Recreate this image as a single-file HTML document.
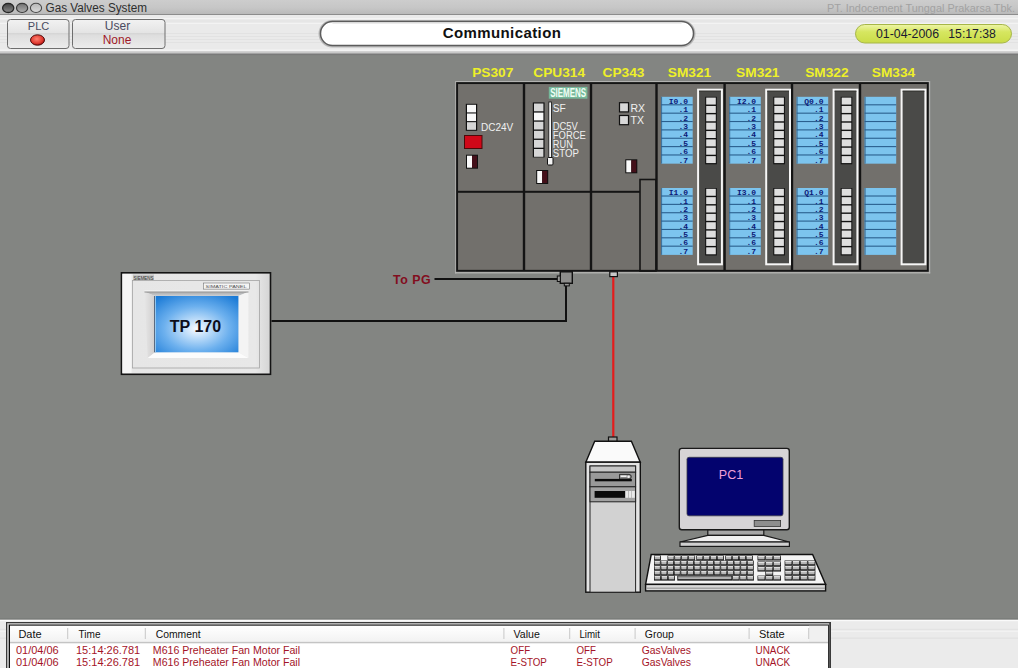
<!DOCTYPE html>
<html><head><meta charset="utf-8">
<style>
html,body{margin:0;padding:0;width:1018px;height:668px;overflow:hidden;background:#838582;font-family:"Liberation Sans",sans-serif;}
svg{position:absolute;left:0;top:0;}
</style></head>
<body>
<svg width="1018" height="668" viewBox="0 0 1018 668" font-family="Liberation Sans, sans-serif">
<defs>
  <linearGradient id="tbar" x1="0" y1="0" x2="0" y2="1">
    <stop offset="0" stop-color="#cdcdcd"/><stop offset="0.55" stop-color="#c6c6c6"/><stop offset="1" stop-color="#b8b8b8"/>
  </linearGradient>
  <linearGradient id="c1" x1="0" y1="0" x2="0" y2="1"><stop offset="0" stop-color="#404040"/><stop offset="1" stop-color="#8a8a8a"/></linearGradient>
  <linearGradient id="c2" x1="0" y1="0" x2="0" y2="1"><stop offset="0" stop-color="#707070"/><stop offset="1" stop-color="#b0b0b0"/></linearGradient>
  <linearGradient id="c3" x1="0" y1="0" x2="0" y2="1"><stop offset="0" stop-color="#b8b8b8"/><stop offset="1" stop-color="#dadada"/></linearGradient>
  <pattern id="stripe" x="0" y="0" width="8" height="4" patternUnits="userSpaceOnUse">
    <rect width="8" height="4" fill="#ebebeb"/><rect y="3" width="8" height="1" fill="#e4e4e4"/>
  </pattern>
  <linearGradient id="btn" x1="0" y1="0" x2="0" y2="1">
    <stop offset="0" stop-color="#f2f2f2"/><stop offset="0.45" stop-color="#e4e4e4"/><stop offset="0.47" stop-color="#d4d4d4"/><stop offset="0.55" stop-color="#dedede"/><stop offset="1" stop-color="#ececec"/>
  </linearGradient>
  <radialGradient id="led" cx="0.45" cy="0.4" r="0.6">
    <stop offset="0" stop-color="#ff8070"/><stop offset="0.7" stop-color="#e03a30"/><stop offset="1" stop-color="#a01010"/>
  </radialGradient>
  <linearGradient id="datepill" x1="0" y1="0" x2="0" y2="1">
    <stop offset="0" stop-color="#eef5a8"/><stop offset="0.4" stop-color="#d6e660"/><stop offset="1" stop-color="#cadc48"/>
  </linearGradient>
  <radialGradient id="scr" cx="0.5" cy="0.58" r="0.72">
    <stop offset="0" stop-color="#fafcff"/><stop offset="0.2" stop-color="#c4e0fa"/><stop offset="0.55" stop-color="#6cb0ee"/><stop offset="1" stop-color="#1a7ad6"/>
  </radialGradient>
</defs>

<!-- title bar -->
<rect x="0" y="0" width="1018" height="14.5" fill="url(#tbar)"/>
<rect x="0" y="14" width="1018" height="1.5" fill="#8c8c8c"/>
<ellipse cx="8.2" cy="7.9" rx="5.6" ry="4.6" fill="url(#c1)" stroke="#262626" stroke-width="1.3"/>
<ellipse cx="22.1" cy="7.9" rx="5.6" ry="4.6" fill="url(#c2)" stroke="#3a3a3a" stroke-width="1.2"/>
<ellipse cx="36" cy="7.9" rx="5.6" ry="4.6" fill="url(#c3)" stroke="#4a4a4a" stroke-width="1.1"/>
<text x="45.5" y="12" font-size="12" fill="#2e2e2e" textLength="101.5" lengthAdjust="spacingAndGlyphs">Gas Valves System</text>
<text x="827" y="11.5" font-size="11" fill="#a2a2a2" textLength="188" lengthAdjust="spacingAndGlyphs">PT. Indocement Tunggal Prakarsa Tbk.</text>

<!-- toolbar -->
<rect x="0" y="15" width="1018" height="37" fill="#eaeaea"/>
<g fill="#f3f3f3"><rect x="0" y="18" width="1018" height="1"/><rect x="0" y="23" width="1018" height="1"/><rect x="0" y="49.5" width="1018" height="1.5"/></g>
<g fill="#e2e2e2"><rect x="0" y="20.5" width="1018" height="1"/><rect x="0" y="33" width="1018" height="1"/><rect x="0" y="36" width="1018" height="1"/><rect x="0" y="39" width="1018" height="1"/><rect x="0" y="42" width="1018" height="1"/></g>
<rect x="0" y="51.3" width="1018" height="2.4" fill="#c8c8c8"/>
<rect x="0" y="53.7" width="1018" height="1.4" fill="#7a7a7a"/>

<!-- PLC button -->
<rect x="7.5" y="19.5" width="61.5" height="29" rx="3" fill="url(#btn)" stroke="#6e6e6e" stroke-width="1"/>
<text x="38.5" y="30" font-size="11" fill="#4a4a60" text-anchor="middle">PLC</text>
<ellipse cx="37.5" cy="40" rx="7" ry="5.2" fill="url(#led)" stroke="#501010" stroke-width="1"/>
<!-- User button -->
<rect x="72.5" y="19.5" width="92.5" height="29" rx="3" fill="url(#btn)" stroke="#6e6e6e" stroke-width="1"/>
<text x="117.5" y="30" font-size="12" fill="#4a4a60" text-anchor="middle">User</text>
<text x="117" y="43.5" font-size="12" fill="#a01828" text-anchor="middle">None</text>

<!-- Communication pill -->
<rect x="319.5" y="21" width="375" height="25.5" rx="12.75" fill="none" stroke="#b8b8b8" stroke-width="2"/>
<rect x="320.5" y="21.6" width="373" height="23.8" rx="11.9" fill="#ffffff" stroke="#5c5c5c" stroke-width="1.5"/>
<path d="M332.4,23.2 H681.6" stroke="#e4e4e4" stroke-width="1"/>
<text x="502" y="38" font-size="15" font-weight="700" fill="#111" text-anchor="middle" letter-spacing="0.4">Communication</text>

<!-- date pill -->
<rect x="855.5" y="24.5" width="156" height="18.5" rx="9.25" fill="url(#datepill)" stroke="#a6b648" stroke-width="1"/>
<text x="876" y="37.6" font-size="12.4" fill="#1a1a30" textLength="63" lengthAdjust="spacingAndGlyphs">01-04-2006</text>
<text x="948.3" y="37.6" font-size="12.4" fill="#1a1a30" textLength="47.6" lengthAdjust="spacingAndGlyphs">15:17:38</text>

<!-- RACK -->
<rect x="455" y="81" width="475" height="1.2" fill="#b2b2b0"/>
<rect x="455" y="81" width="1.2" height="192.5" fill="#a8a8a6"/>
<rect x="928.8" y="81" width="1.4" height="192.5" fill="#b0b0ae"/>
<rect x="455" y="272.2" width="475.2" height="1.2" fill="#b8b8b6"/>
<rect x="457" y="83" width="471" height="188" fill="#72706c"/>
<rect x="457" y="190.8" width="183" height="2" fill="#141414"/>
<rect x="640" y="179.5" width="16" height="91.5" fill="#72706c" stroke="#141414" stroke-width="1.6"/>
<rect x="457.1" y="83.1" width="470.7" height="187.7" fill="none" stroke="#141414" stroke-width="1.9"/>
<rect x="522.8" y="83" width="2.4" height="188" fill="#141414"/>
<rect x="589.8" y="83" width="2.4" height="188" fill="#141414"/>
<rect x="655.3" y="83" width="2.4" height="188" fill="#141414"/>
<rect x="723.4" y="83" width="2.4" height="188" fill="#141414"/>
<rect x="790.8" y="83" width="2.4" height="188" fill="#141414"/>
<rect x="858.8" y="83" width="2.4" height="188" fill="#141414"/>
<rect x="465.8" y="103.8" width="11.4" height="27" fill="#111"/>
<rect x="467" y="104.8" width="9" height="7.6" fill="#f8f8f8"/>
<rect x="467" y="113.5" width="9" height="7.6" fill="#f8f8f8"/>
<rect x="467" y="122.2" width="9" height="7.6" fill="#d6d6d6"/>
<text x="481" y="131" font-size="10" fill="#f0f0f0">DC24V</text>
<rect x="464.5" y="135.5" width="17.5" height="13" fill="#d00818" stroke="#4a0a0a" stroke-width="1"/>
<rect x="466" y="154.7" width="12" height="14" fill="#111"/>
<rect x="467" y="155.7" width="5" height="12" fill="#fafafa"/>
<rect x="472" y="155.7" width="5" height="12" fill="#44101a"/>
<rect x="548.8" y="86.9" width="38.6" height="11.8" fill="#76b89a"/>
<text x="550.2" y="97.3" font-size="12.4" font-weight="700" fill="#f0fff6" textLength="36" lengthAdjust="spacingAndGlyphs">SIEMENS</text>
<rect x="532.8" y="102.4" width="11.8" height="55" fill="#111"/>
<rect x="534" y="103.5" width="9.4" height="7.8" fill="#d6d6d6"/>
<rect x="534" y="112.6" width="9.4" height="7.8" fill="#f8f8f8"/>
<rect x="534" y="121.7" width="9.4" height="7.8" fill="#d6d6d6"/>
<rect x="534" y="130.8" width="9.4" height="7.8" fill="#d6d6d6"/>
<rect x="534" y="139.9" width="9.4" height="7.8" fill="#d6d6d6"/>
<rect x="534" y="149.0" width="9.4" height="7.8" fill="#d6d6d6"/>
<rect x="548.8" y="102" width="2.6" height="56" fill="#f4f4f4" stroke="#111" stroke-width="0.8"/>
<rect x="547.5" y="157.5" width="5.5" height="7.5" rx="1" fill="#f4f4f4" stroke="#111" stroke-width="1"/>
<text x="552.8" y="112" font-size="10" fill="#f0f0f0" textLength="13" lengthAdjust="spacingAndGlyphs">SF</text>
<text x="552.8" y="130.2" font-size="10" fill="#f0f0f0" textLength="25" lengthAdjust="spacingAndGlyphs">DC5V</text>
<text x="552.8" y="139" font-size="10" fill="#f0f0f0" textLength="33" lengthAdjust="spacingAndGlyphs">FORCE</text>
<text x="552.8" y="147.8" font-size="10" fill="#f0f0f0" textLength="20" lengthAdjust="spacingAndGlyphs">RUN</text>
<text x="552.8" y="156.5" font-size="10" fill="#f0f0f0" textLength="26" lengthAdjust="spacingAndGlyphs">STOP</text>
<rect x="536.2" y="170" width="12" height="14" fill="#111"/>
<rect x="537.2" y="171" width="5" height="12" fill="#fafafa"/>
<rect x="542.2" y="171" width="5" height="12" fill="#44101a"/>
<rect x="619.5" y="102.7" width="9" height="9.2" fill="#d8d8d8" stroke="#111" stroke-width="1.2"/>
<rect x="619.5" y="115.5" width="9" height="9.2" fill="#d8d8d8" stroke="#111" stroke-width="1.2"/>
<text x="630.5" y="111.6" font-size="10.5" fill="#f0f0f0">RX</text>
<text x="630.5" y="124.4" font-size="10.5" fill="#f0f0f0">TX</text>
<rect x="625.3" y="159.3" width="12" height="14" fill="#111"/>
<rect x="626.3" y="160.3" width="5" height="12" fill="#fafafa"/>
<rect x="631.3" y="160.3" width="5" height="12" fill="#44101a"/>
<rect x="698.1" y="89.7" width="23.8" height="174.6" fill="#4a4a48" stroke="#f6f6f6" stroke-width="2"/>
<rect x="699.1" y="90.7" width="21.8" height="1" fill="#353533"/>
<rect x="661.1" y="96.8" width="31.6" height="66.88" fill="#7cc4ee"/>
<rect x="661.1" y="96.8" width="1" height="66.88" fill="#3a6e98"/>
<rect x="661.1" y="104.26" width="31.6" height="1.1" fill="#2a5f8e"/>
<text x="688.0" y="104.00" font-size="8" font-family="Liberation Mono, monospace" font-weight="700" fill="#0c1a78" text-anchor="end">I0.0</text>
<rect x="661.1" y="112.62" width="31.6" height="1.1" fill="#2a5f8e"/>
<text x="688.0" y="112.36" font-size="8" font-family="Liberation Mono, monospace" font-weight="700" fill="#0c1a78" text-anchor="end">.1</text>
<rect x="661.1" y="120.98" width="31.6" height="1.1" fill="#2a5f8e"/>
<text x="688.0" y="120.72" font-size="8" font-family="Liberation Mono, monospace" font-weight="700" fill="#0c1a78" text-anchor="end">.2</text>
<rect x="661.1" y="129.34" width="31.6" height="1.1" fill="#2a5f8e"/>
<text x="688.0" y="129.08" font-size="8" font-family="Liberation Mono, monospace" font-weight="700" fill="#0c1a78" text-anchor="end">.3</text>
<rect x="661.1" y="137.70" width="31.6" height="1.1" fill="#2a5f8e"/>
<text x="688.0" y="137.44" font-size="8" font-family="Liberation Mono, monospace" font-weight="700" fill="#0c1a78" text-anchor="end">.4</text>
<rect x="661.1" y="146.06" width="31.6" height="1.1" fill="#2a5f8e"/>
<text x="688.0" y="145.80" font-size="8" font-family="Liberation Mono, monospace" font-weight="700" fill="#0c1a78" text-anchor="end">.5</text>
<rect x="661.1" y="154.42" width="31.6" height="1.1" fill="#2a5f8e"/>
<text x="688.0" y="154.16" font-size="8" font-family="Liberation Mono, monospace" font-weight="700" fill="#0c1a78" text-anchor="end">.6</text>
<text x="688.0" y="162.52" font-size="8" font-family="Liberation Mono, monospace" font-weight="700" fill="#0c1a78" text-anchor="end">.7</text>
<rect x="705.2" y="96.8" width="11.6" height="67.48" fill="#111"/>
<rect x="706.2" y="97.60" width="9.6" height="6.96" fill="#dedede"/>
<rect x="706.2" y="105.96" width="9.6" height="6.96" fill="#dedede"/>
<rect x="706.2" y="114.32" width="9.6" height="6.96" fill="#dedede"/>
<rect x="706.2" y="122.68" width="9.6" height="6.96" fill="#dedede"/>
<rect x="706.2" y="131.04" width="9.6" height="6.96" fill="#dedede"/>
<rect x="706.2" y="139.40" width="9.6" height="6.96" fill="#dedede"/>
<rect x="706.2" y="147.76" width="9.6" height="6.96" fill="#dedede"/>
<rect x="706.2" y="156.12" width="9.6" height="6.96" fill="#dedede"/>
<rect x="661.1" y="188" width="31.6" height="66.88" fill="#7cc4ee"/>
<rect x="661.1" y="188" width="1" height="66.88" fill="#3a6e98"/>
<rect x="661.1" y="195.46" width="31.6" height="1.1" fill="#2a5f8e"/>
<text x="688.0" y="195.20" font-size="8" font-family="Liberation Mono, monospace" font-weight="700" fill="#0c1a78" text-anchor="end">I1.0</text>
<rect x="661.1" y="203.82" width="31.6" height="1.1" fill="#2a5f8e"/>
<text x="688.0" y="203.56" font-size="8" font-family="Liberation Mono, monospace" font-weight="700" fill="#0c1a78" text-anchor="end">.1</text>
<rect x="661.1" y="212.18" width="31.6" height="1.1" fill="#2a5f8e"/>
<text x="688.0" y="211.92" font-size="8" font-family="Liberation Mono, monospace" font-weight="700" fill="#0c1a78" text-anchor="end">.2</text>
<rect x="661.1" y="220.54" width="31.6" height="1.1" fill="#2a5f8e"/>
<text x="688.0" y="220.28" font-size="8" font-family="Liberation Mono, monospace" font-weight="700" fill="#0c1a78" text-anchor="end">.3</text>
<rect x="661.1" y="228.90" width="31.6" height="1.1" fill="#2a5f8e"/>
<text x="688.0" y="228.64" font-size="8" font-family="Liberation Mono, monospace" font-weight="700" fill="#0c1a78" text-anchor="end">.4</text>
<rect x="661.1" y="237.26" width="31.6" height="1.1" fill="#2a5f8e"/>
<text x="688.0" y="237.00" font-size="8" font-family="Liberation Mono, monospace" font-weight="700" fill="#0c1a78" text-anchor="end">.5</text>
<rect x="661.1" y="245.62" width="31.6" height="1.1" fill="#2a5f8e"/>
<text x="688.0" y="245.36" font-size="8" font-family="Liberation Mono, monospace" font-weight="700" fill="#0c1a78" text-anchor="end">.6</text>
<text x="688.0" y="253.72" font-size="8" font-family="Liberation Mono, monospace" font-weight="700" fill="#0c1a78" text-anchor="end">.7</text>
<rect x="705.2" y="188" width="11.6" height="67.48" fill="#111"/>
<rect x="706.2" y="188.80" width="9.6" height="6.96" fill="#dedede"/>
<rect x="706.2" y="197.16" width="9.6" height="6.96" fill="#dedede"/>
<rect x="706.2" y="205.52" width="9.6" height="6.96" fill="#dedede"/>
<rect x="706.2" y="213.88" width="9.6" height="6.96" fill="#dedede"/>
<rect x="706.2" y="222.24" width="9.6" height="6.96" fill="#dedede"/>
<rect x="706.2" y="230.60" width="9.6" height="6.96" fill="#dedede"/>
<rect x="706.2" y="238.96" width="9.6" height="6.96" fill="#dedede"/>
<rect x="706.2" y="247.32" width="9.6" height="6.96" fill="#dedede"/>
<rect x="766.2" y="89.7" width="23.8" height="174.6" fill="#4a4a48" stroke="#f6f6f6" stroke-width="2"/>
<rect x="767.2" y="90.7" width="21.8" height="1" fill="#353533"/>
<rect x="729.2" y="96.8" width="31.6" height="66.88" fill="#7cc4ee"/>
<rect x="729.2" y="96.8" width="1" height="66.88" fill="#3a6e98"/>
<rect x="729.2" y="104.26" width="31.6" height="1.1" fill="#2a5f8e"/>
<text x="756.1" y="104.00" font-size="8" font-family="Liberation Mono, monospace" font-weight="700" fill="#0c1a78" text-anchor="end">I2.0</text>
<rect x="729.2" y="112.62" width="31.6" height="1.1" fill="#2a5f8e"/>
<text x="756.1" y="112.36" font-size="8" font-family="Liberation Mono, monospace" font-weight="700" fill="#0c1a78" text-anchor="end">.1</text>
<rect x="729.2" y="120.98" width="31.6" height="1.1" fill="#2a5f8e"/>
<text x="756.1" y="120.72" font-size="8" font-family="Liberation Mono, monospace" font-weight="700" fill="#0c1a78" text-anchor="end">.2</text>
<rect x="729.2" y="129.34" width="31.6" height="1.1" fill="#2a5f8e"/>
<text x="756.1" y="129.08" font-size="8" font-family="Liberation Mono, monospace" font-weight="700" fill="#0c1a78" text-anchor="end">.3</text>
<rect x="729.2" y="137.70" width="31.6" height="1.1" fill="#2a5f8e"/>
<text x="756.1" y="137.44" font-size="8" font-family="Liberation Mono, monospace" font-weight="700" fill="#0c1a78" text-anchor="end">.4</text>
<rect x="729.2" y="146.06" width="31.6" height="1.1" fill="#2a5f8e"/>
<text x="756.1" y="145.80" font-size="8" font-family="Liberation Mono, monospace" font-weight="700" fill="#0c1a78" text-anchor="end">.5</text>
<rect x="729.2" y="154.42" width="31.6" height="1.1" fill="#2a5f8e"/>
<text x="756.1" y="154.16" font-size="8" font-family="Liberation Mono, monospace" font-weight="700" fill="#0c1a78" text-anchor="end">.6</text>
<text x="756.1" y="162.52" font-size="8" font-family="Liberation Mono, monospace" font-weight="700" fill="#0c1a78" text-anchor="end">.7</text>
<rect x="773.3000000000001" y="96.8" width="11.6" height="67.48" fill="#111"/>
<rect x="774.3000000000001" y="97.60" width="9.6" height="6.96" fill="#dedede"/>
<rect x="774.3000000000001" y="105.96" width="9.6" height="6.96" fill="#dedede"/>
<rect x="774.3000000000001" y="114.32" width="9.6" height="6.96" fill="#dedede"/>
<rect x="774.3000000000001" y="122.68" width="9.6" height="6.96" fill="#dedede"/>
<rect x="774.3000000000001" y="131.04" width="9.6" height="6.96" fill="#dedede"/>
<rect x="774.3000000000001" y="139.40" width="9.6" height="6.96" fill="#dedede"/>
<rect x="774.3000000000001" y="147.76" width="9.6" height="6.96" fill="#dedede"/>
<rect x="774.3000000000001" y="156.12" width="9.6" height="6.96" fill="#dedede"/>
<rect x="729.2" y="188" width="31.6" height="66.88" fill="#7cc4ee"/>
<rect x="729.2" y="188" width="1" height="66.88" fill="#3a6e98"/>
<rect x="729.2" y="195.46" width="31.6" height="1.1" fill="#2a5f8e"/>
<text x="756.1" y="195.20" font-size="8" font-family="Liberation Mono, monospace" font-weight="700" fill="#0c1a78" text-anchor="end">I3.0</text>
<rect x="729.2" y="203.82" width="31.6" height="1.1" fill="#2a5f8e"/>
<text x="756.1" y="203.56" font-size="8" font-family="Liberation Mono, monospace" font-weight="700" fill="#0c1a78" text-anchor="end">.1</text>
<rect x="729.2" y="212.18" width="31.6" height="1.1" fill="#2a5f8e"/>
<text x="756.1" y="211.92" font-size="8" font-family="Liberation Mono, monospace" font-weight="700" fill="#0c1a78" text-anchor="end">.2</text>
<rect x="729.2" y="220.54" width="31.6" height="1.1" fill="#2a5f8e"/>
<text x="756.1" y="220.28" font-size="8" font-family="Liberation Mono, monospace" font-weight="700" fill="#0c1a78" text-anchor="end">.3</text>
<rect x="729.2" y="228.90" width="31.6" height="1.1" fill="#2a5f8e"/>
<text x="756.1" y="228.64" font-size="8" font-family="Liberation Mono, monospace" font-weight="700" fill="#0c1a78" text-anchor="end">.4</text>
<rect x="729.2" y="237.26" width="31.6" height="1.1" fill="#2a5f8e"/>
<text x="756.1" y="237.00" font-size="8" font-family="Liberation Mono, monospace" font-weight="700" fill="#0c1a78" text-anchor="end">.5</text>
<rect x="729.2" y="245.62" width="31.6" height="1.1" fill="#2a5f8e"/>
<text x="756.1" y="245.36" font-size="8" font-family="Liberation Mono, monospace" font-weight="700" fill="#0c1a78" text-anchor="end">.6</text>
<text x="756.1" y="253.72" font-size="8" font-family="Liberation Mono, monospace" font-weight="700" fill="#0c1a78" text-anchor="end">.7</text>
<rect x="773.3000000000001" y="188" width="11.6" height="67.48" fill="#111"/>
<rect x="774.3000000000001" y="188.80" width="9.6" height="6.96" fill="#dedede"/>
<rect x="774.3000000000001" y="197.16" width="9.6" height="6.96" fill="#dedede"/>
<rect x="774.3000000000001" y="205.52" width="9.6" height="6.96" fill="#dedede"/>
<rect x="774.3000000000001" y="213.88" width="9.6" height="6.96" fill="#dedede"/>
<rect x="774.3000000000001" y="222.24" width="9.6" height="6.96" fill="#dedede"/>
<rect x="774.3000000000001" y="230.60" width="9.6" height="6.96" fill="#dedede"/>
<rect x="774.3000000000001" y="238.96" width="9.6" height="6.96" fill="#dedede"/>
<rect x="774.3000000000001" y="247.32" width="9.6" height="6.96" fill="#dedede"/>
<rect x="833.6" y="89.7" width="23.8" height="174.6" fill="#4a4a48" stroke="#f6f6f6" stroke-width="2"/>
<rect x="834.6" y="90.7" width="21.8" height="1" fill="#353533"/>
<rect x="796.6" y="96.8" width="31.6" height="66.88" fill="#7cc4ee"/>
<rect x="796.6" y="96.8" width="1" height="66.88" fill="#3a6e98"/>
<rect x="796.6" y="104.26" width="31.6" height="1.1" fill="#2a5f8e"/>
<text x="823.5" y="104.00" font-size="8" font-family="Liberation Mono, monospace" font-weight="700" fill="#0c1a78" text-anchor="end">Q0.0</text>
<rect x="796.6" y="112.62" width="31.6" height="1.1" fill="#2a5f8e"/>
<text x="823.5" y="112.36" font-size="8" font-family="Liberation Mono, monospace" font-weight="700" fill="#0c1a78" text-anchor="end">.1</text>
<rect x="796.6" y="120.98" width="31.6" height="1.1" fill="#2a5f8e"/>
<text x="823.5" y="120.72" font-size="8" font-family="Liberation Mono, monospace" font-weight="700" fill="#0c1a78" text-anchor="end">.2</text>
<rect x="796.6" y="129.34" width="31.6" height="1.1" fill="#2a5f8e"/>
<text x="823.5" y="129.08" font-size="8" font-family="Liberation Mono, monospace" font-weight="700" fill="#0c1a78" text-anchor="end">.3</text>
<rect x="796.6" y="137.70" width="31.6" height="1.1" fill="#2a5f8e"/>
<text x="823.5" y="137.44" font-size="8" font-family="Liberation Mono, monospace" font-weight="700" fill="#0c1a78" text-anchor="end">.4</text>
<rect x="796.6" y="146.06" width="31.6" height="1.1" fill="#2a5f8e"/>
<text x="823.5" y="145.80" font-size="8" font-family="Liberation Mono, monospace" font-weight="700" fill="#0c1a78" text-anchor="end">.5</text>
<rect x="796.6" y="154.42" width="31.6" height="1.1" fill="#2a5f8e"/>
<text x="823.5" y="154.16" font-size="8" font-family="Liberation Mono, monospace" font-weight="700" fill="#0c1a78" text-anchor="end">.6</text>
<text x="823.5" y="162.52" font-size="8" font-family="Liberation Mono, monospace" font-weight="700" fill="#0c1a78" text-anchor="end">.7</text>
<rect x="840.7" y="96.8" width="11.6" height="67.48" fill="#111"/>
<rect x="841.7" y="97.60" width="9.6" height="6.96" fill="#dedede"/>
<rect x="841.7" y="105.96" width="9.6" height="6.96" fill="#dedede"/>
<rect x="841.7" y="114.32" width="9.6" height="6.96" fill="#dedede"/>
<rect x="841.7" y="122.68" width="9.6" height="6.96" fill="#dedede"/>
<rect x="841.7" y="131.04" width="9.6" height="6.96" fill="#dedede"/>
<rect x="841.7" y="139.40" width="9.6" height="6.96" fill="#dedede"/>
<rect x="841.7" y="147.76" width="9.6" height="6.96" fill="#dedede"/>
<rect x="841.7" y="156.12" width="9.6" height="6.96" fill="#dedede"/>
<rect x="796.6" y="188" width="31.6" height="66.88" fill="#7cc4ee"/>
<rect x="796.6" y="188" width="1" height="66.88" fill="#3a6e98"/>
<rect x="796.6" y="195.46" width="31.6" height="1.1" fill="#2a5f8e"/>
<text x="823.5" y="195.20" font-size="8" font-family="Liberation Mono, monospace" font-weight="700" fill="#0c1a78" text-anchor="end">Q1.0</text>
<rect x="796.6" y="203.82" width="31.6" height="1.1" fill="#2a5f8e"/>
<text x="823.5" y="203.56" font-size="8" font-family="Liberation Mono, monospace" font-weight="700" fill="#0c1a78" text-anchor="end">.1</text>
<rect x="796.6" y="212.18" width="31.6" height="1.1" fill="#2a5f8e"/>
<text x="823.5" y="211.92" font-size="8" font-family="Liberation Mono, monospace" font-weight="700" fill="#0c1a78" text-anchor="end">.2</text>
<rect x="796.6" y="220.54" width="31.6" height="1.1" fill="#2a5f8e"/>
<text x="823.5" y="220.28" font-size="8" font-family="Liberation Mono, monospace" font-weight="700" fill="#0c1a78" text-anchor="end">.3</text>
<rect x="796.6" y="228.90" width="31.6" height="1.1" fill="#2a5f8e"/>
<text x="823.5" y="228.64" font-size="8" font-family="Liberation Mono, monospace" font-weight="700" fill="#0c1a78" text-anchor="end">.4</text>
<rect x="796.6" y="237.26" width="31.6" height="1.1" fill="#2a5f8e"/>
<text x="823.5" y="237.00" font-size="8" font-family="Liberation Mono, monospace" font-weight="700" fill="#0c1a78" text-anchor="end">.5</text>
<rect x="796.6" y="245.62" width="31.6" height="1.1" fill="#2a5f8e"/>
<text x="823.5" y="245.36" font-size="8" font-family="Liberation Mono, monospace" font-weight="700" fill="#0c1a78" text-anchor="end">.6</text>
<text x="823.5" y="253.72" font-size="8" font-family="Liberation Mono, monospace" font-weight="700" fill="#0c1a78" text-anchor="end">.7</text>
<rect x="840.7" y="188" width="11.6" height="67.48" fill="#111"/>
<rect x="841.7" y="188.80" width="9.6" height="6.96" fill="#dedede"/>
<rect x="841.7" y="197.16" width="9.6" height="6.96" fill="#dedede"/>
<rect x="841.7" y="205.52" width="9.6" height="6.96" fill="#dedede"/>
<rect x="841.7" y="213.88" width="9.6" height="6.96" fill="#dedede"/>
<rect x="841.7" y="222.24" width="9.6" height="6.96" fill="#dedede"/>
<rect x="841.7" y="230.60" width="9.6" height="6.96" fill="#dedede"/>
<rect x="841.7" y="238.96" width="9.6" height="6.96" fill="#dedede"/>
<rect x="841.7" y="247.32" width="9.6" height="6.96" fill="#dedede"/>
<rect x="901.6" y="89.7" width="23.8" height="174.6" fill="#4a4a48" stroke="#f6f6f6" stroke-width="2"/>
<rect x="902.6" y="90.7" width="21.8" height="1" fill="#353533"/>
<rect x="864.6" y="96.8" width="31.6" height="66.88" fill="#7cc4ee"/>
<rect x="864.6" y="96.8" width="1" height="66.88" fill="#3a6e98"/>
<rect x="864.6" y="104.26" width="31.6" height="1.1" fill="#2a5f8e"/>
<rect x="864.6" y="112.62" width="31.6" height="1.1" fill="#2a5f8e"/>
<rect x="864.6" y="120.98" width="31.6" height="1.1" fill="#2a5f8e"/>
<rect x="864.6" y="129.34" width="31.6" height="1.1" fill="#2a5f8e"/>
<rect x="864.6" y="137.70" width="31.6" height="1.1" fill="#2a5f8e"/>
<rect x="864.6" y="146.06" width="31.6" height="1.1" fill="#2a5f8e"/>
<rect x="864.6" y="154.42" width="31.6" height="1.1" fill="#2a5f8e"/>
<rect x="864.6" y="188" width="31.6" height="66.88" fill="#7cc4ee"/>
<rect x="864.6" y="188" width="1" height="66.88" fill="#3a6e98"/>
<rect x="864.6" y="195.46" width="31.6" height="1.1" fill="#2a5f8e"/>
<rect x="864.6" y="203.82" width="31.6" height="1.1" fill="#2a5f8e"/>
<rect x="864.6" y="212.18" width="31.6" height="1.1" fill="#2a5f8e"/>
<rect x="864.6" y="220.54" width="31.6" height="1.1" fill="#2a5f8e"/>
<rect x="864.6" y="228.90" width="31.6" height="1.1" fill="#2a5f8e"/>
<rect x="864.6" y="237.26" width="31.6" height="1.1" fill="#2a5f8e"/>
<rect x="864.6" y="245.62" width="31.6" height="1.1" fill="#2a5f8e"/>

<g font-size="13.7" font-weight="700" fill="#eef028" text-anchor="middle">
<text x="492.8" y="77">PS307</text><text x="559.2" y="77">CPU314</text><text x="623.5" y="77">CP343</text>
<text x="689.5" y="77">SM321</text><text x="757.8" y="77">SM321</text><text x="826.9" y="77">SM322</text><text x="893.5" y="77">SM334</text>
</g>
<!-- /RACK -->
<!-- TP170 -->
<defs>
  <linearGradient id="tpbg" x1="0" y1="0" x2="1" y2="0">
    <stop offset="0" stop-color="#f4f4f4"/><stop offset="0.08" stop-color="#e6e6e6"/><stop offset="0.9" stop-color="#e8e8e8"/><stop offset="1" stop-color="#d4d4d4"/>
  </linearGradient>
  <linearGradient id="lbev" x1="0" y1="0" x2="1" y2="0"><stop offset="0" stop-color="#e6e6e6"/><stop offset="1" stop-color="#cfcdcd"/></linearGradient>
  <linearGradient id="topbev" x1="0" y1="0" x2="0" y2="1">
    <stop offset="0" stop-color="#a8a8a8"/><stop offset="1" stop-color="#ccd0d4"/>
  </linearGradient>
</defs>
<rect x="121.5" y="272.8" width="149" height="101.5" fill="url(#tpbg)" stroke="#141414" stroke-width="1.6"/>
<rect x="122.5" y="274" width="9" height="99" fill="#f6f6f6"/>
<rect x="132.5" y="280.5" width="127" height="87.5" fill="none" stroke="#a4a4a4" stroke-width="0.8"/>
<rect x="133" y="274.5" width="21" height="5.5" fill="#c4c4c4"/>
<text x="133.5" y="279.5" font-size="5" fill="#303030" textLength="20" lengthAdjust="spacingAndGlyphs">SIEMENS</text>
<rect x="203.6" y="283" width="45.7" height="6.1" fill="#f4f4f4" stroke="#606060" stroke-width="0.5"/>
<text x="205.5" y="288" font-size="4.4" fill="#505050" textLength="41" lengthAdjust="spacingAndGlyphs">SIMATIC PANEL</text>
<!-- bevel -->
<polygon points="144.5,291.8 248.4,291.8 238.4,296 155,296" fill="url(#topbev)"/>
<polygon points="144.5,291.8 155,296 155,352.3 147.7,358" fill="url(#lbev)"/>
<polygon points="248.4,291.8 238.4,296 238.4,352.3 248.4,358" fill="#f4f4f4"/>
<polygon points="147.7,358 155,352.3 238.4,352.3 248.4,358" fill="#fcfcfc"/>
<rect x="144.5" y="291.4" width="104" height="1.2" fill="#9e9e9e"/>
<rect x="144.5" y="290.2" width="104" height="1" fill="#f2f2f2"/>
<rect x="155" y="296" width="83.4" height="56.3" fill="url(#scr)"/>
<rect x="154" y="296" width="1.2" height="56.3" fill="#5a6a80"/>
<rect x="155.2" y="296" width="0.8" height="56.3" fill="#a8d8f8"/>
<text x="195.5" y="332" font-size="16" font-weight="700" fill="#0e0e1a" text-anchor="middle">TP 170</text>

<!-- cables -->
<polyline points="271.5,321 566,321 566,285" fill="none" stroke="#111" stroke-width="2"/>
<line x1="434.5" y1="279" x2="558" y2="279" stroke="#111" stroke-width="2"/>
<rect x="560.3" y="271.8" width="12" height="11.5" fill="#8e8e8c" stroke="#111" stroke-width="1.4"/>
<rect x="557.3" y="276" width="3" height="5.5" fill="#9a9a98" stroke="#111" stroke-width="1"/>
<rect x="564.3" y="283.3" width="5" height="2.6" fill="#9a9a98" stroke="#111" stroke-width="1"/>
<text x="393" y="283.6" font-size="12.4" font-weight="700" fill="#820e1e" letter-spacing="0.5">To PG</text>
<rect x="612.2" y="276" width="2.2" height="161" fill="#e41c1c"/>
<rect x="609.8" y="271.8" width="7.6" height="4.8" fill="#c8c8c8" stroke="#111" stroke-width="1.2"/>

<!-- PC tower -->
<rect x="608.5" y="437" width="8.5" height="4.5" fill="#9c9c9a" stroke="#111" stroke-width="1.2"/>
<polygon points="594.7,441.2 631.4,441.2 640.3,462.2 585.8,462.2" fill="#fafafa" stroke="#111" stroke-width="1.4"/>
<rect x="585.8" y="462.2" width="54.5" height="130" fill="#e4e4e4" stroke="#111" stroke-width="1.4"/>
<rect x="590" y="466" width="45.6" height="126.2" fill="#d2d2d2" stroke="#222" stroke-width="1"/>
<rect x="590" y="466" width="45.6" height="6.2" fill="#c6c6c6" stroke="#222" stroke-width="1"/>
<rect x="590" y="472.2" width="45.6" height="14.6" fill="#999999" stroke="#222" stroke-width="1"/>
<rect x="594.8" y="478.9" width="37" height="2.4" fill="#0a0a0a"/>
<path d="M619.5,474.4 h9.5 a2.3,2.3 0 0 1 0,4.6 h-9.5 z" fill="#8a8a8a" stroke="#1a1a1a" stroke-width="0.8"/>
<rect x="620.6" y="475.4" width="6" height="1.6" fill="#f0f0f0"/>
<circle cx="628.6" cy="476.7" r="1.3" fill="#f4f4f4"/>
<rect x="590" y="486.8" width="45.6" height="15" fill="#a2a2a2" stroke="#222" stroke-width="1"/>
<rect x="594.6" y="491" width="30.4" height="6.8" fill="#0a0a0a"/>
<rect x="625.6" y="491" width="2.6" height="6.8" fill="#e8e8e8"/>
<rect x="628.8" y="491" width="2.6" height="6.8" fill="#e8e8e8"/>
<rect x="632" y="491" width="2.8" height="6.8" fill="#e8e8e8"/>

<!-- monitor -->
<rect x="679.3" y="448.4" width="110" height="81.4" rx="2.5" fill="#d6d4d6" stroke="#1a1a1a" stroke-width="1.4"/>
<rect x="687" y="457.3" width="96" height="58.5" rx="2" fill="#03036e" stroke="#3a3a4a" stroke-width="0.8"/>
<text x="731" y="479" font-size="12.5" fill="#f0a0d8" text-anchor="middle">PC1</text>
<rect x="754.2" y="520.4" width="26.4" height="6" fill="#8e8e8e" stroke="#333" stroke-width="0.8"/>
<rect x="707.8" y="530" width="56" height="5.4" fill="#a6a6a6" stroke="#1a1a1a" stroke-width="1.2"/>
<polygon points="707.8,535.4 763.8,535.4 789.4,542 680,542" fill="#f0f0f0" stroke="#1a1a1a" stroke-width="1.2"/>
<rect x="680" y="542" width="109.4" height="4.4" fill="#d0d0d0" stroke="#1a1a1a" stroke-width="1.2"/>

<!-- keyboard -->
<polygon points="651.2,554.5 812.6,554.5 825.6,584.4 645.6,584.4" fill="#f4f4f4" stroke="#111" stroke-width="1.4"/>
<rect x="645.6" y="584.4" width="180" height="6.5" fill="#d8d8d8" stroke="#111" stroke-width="1.4"/>
<rect x="646.5" y="587.6" width="178.5" height="1.2" fill="#9a9a9a"/>
<rect x="654.00" y="555.50" width="6.90" height="5.02" fill="#151515"/>
<rect x="654.70" y="556.10" width="5.40" height="3.22" fill="#b4b4b4"/>
<rect x="654.70" y="556.10" width="5.40" height="1" fill="#e8e8e8"/>
<rect x="667.50" y="555.50" width="6.90" height="5.02" fill="#151515"/>
<rect x="668.20" y="556.10" width="5.40" height="3.22" fill="#b4b4b4"/>
<rect x="668.20" y="556.10" width="5.40" height="1" fill="#e8e8e8"/>
<rect x="674.40" y="555.50" width="6.90" height="5.02" fill="#151515"/>
<rect x="675.10" y="556.10" width="5.40" height="3.22" fill="#b4b4b4"/>
<rect x="675.10" y="556.10" width="5.40" height="1" fill="#e8e8e8"/>
<rect x="681.30" y="555.50" width="6.90" height="5.02" fill="#151515"/>
<rect x="682.00" y="556.10" width="5.40" height="3.22" fill="#b4b4b4"/>
<rect x="682.00" y="556.10" width="5.40" height="1" fill="#e8e8e8"/>
<rect x="688.20" y="555.50" width="6.90" height="5.02" fill="#151515"/>
<rect x="688.90" y="556.10" width="5.40" height="3.22" fill="#b4b4b4"/>
<rect x="688.90" y="556.10" width="5.40" height="1" fill="#e8e8e8"/>
<rect x="696.30" y="555.50" width="6.90" height="5.02" fill="#151515"/>
<rect x="697.00" y="556.10" width="5.40" height="3.22" fill="#b4b4b4"/>
<rect x="697.00" y="556.10" width="5.40" height="1" fill="#e8e8e8"/>
<rect x="703.20" y="555.50" width="6.90" height="5.02" fill="#151515"/>
<rect x="703.90" y="556.10" width="5.40" height="3.22" fill="#b4b4b4"/>
<rect x="703.90" y="556.10" width="5.40" height="1" fill="#e8e8e8"/>
<rect x="710.10" y="555.50" width="6.90" height="5.02" fill="#151515"/>
<rect x="710.80" y="556.10" width="5.40" height="3.22" fill="#b4b4b4"/>
<rect x="710.80" y="556.10" width="5.40" height="1" fill="#e8e8e8"/>
<rect x="717.00" y="555.50" width="6.90" height="5.02" fill="#151515"/>
<rect x="717.70" y="556.10" width="5.40" height="3.22" fill="#b4b4b4"/>
<rect x="717.70" y="556.10" width="5.40" height="1" fill="#e8e8e8"/>
<rect x="725.20" y="555.50" width="6.90" height="5.02" fill="#151515"/>
<rect x="725.90" y="556.10" width="5.40" height="3.22" fill="#b4b4b4"/>
<rect x="725.90" y="556.10" width="5.40" height="1" fill="#e8e8e8"/>
<rect x="732.10" y="555.50" width="6.90" height="5.02" fill="#151515"/>
<rect x="732.80" y="556.10" width="5.40" height="3.22" fill="#b4b4b4"/>
<rect x="732.80" y="556.10" width="5.40" height="1" fill="#e8e8e8"/>
<rect x="739.00" y="555.50" width="6.90" height="5.02" fill="#151515"/>
<rect x="739.70" y="556.10" width="5.40" height="3.22" fill="#b4b4b4"/>
<rect x="739.70" y="556.10" width="5.40" height="1" fill="#e8e8e8"/>
<rect x="745.90" y="555.50" width="6.90" height="5.02" fill="#151515"/>
<rect x="746.60" y="556.10" width="5.40" height="3.22" fill="#b4b4b4"/>
<rect x="746.60" y="556.10" width="5.40" height="1" fill="#e8e8e8"/>
<rect x="654.00" y="560.52" width="6.65" height="5.02" fill="#151515"/>
<rect x="654.70" y="561.12" width="5.15" height="3.22" fill="#b4b4b4"/>
<rect x="654.70" y="561.12" width="5.15" height="1" fill="#e8e8e8"/>
<rect x="660.65" y="560.52" width="6.65" height="5.02" fill="#151515"/>
<rect x="661.35" y="561.12" width="5.15" height="3.22" fill="#b4b4b4"/>
<rect x="661.35" y="561.12" width="5.15" height="1" fill="#e8e8e8"/>
<rect x="667.30" y="560.52" width="6.65" height="5.02" fill="#151515"/>
<rect x="668.00" y="561.12" width="5.15" height="3.22" fill="#b4b4b4"/>
<rect x="668.00" y="561.12" width="5.15" height="1" fill="#e8e8e8"/>
<rect x="673.95" y="560.52" width="6.65" height="5.02" fill="#151515"/>
<rect x="674.65" y="561.12" width="5.15" height="3.22" fill="#b4b4b4"/>
<rect x="674.65" y="561.12" width="5.15" height="1" fill="#e8e8e8"/>
<rect x="680.60" y="560.52" width="6.65" height="5.02" fill="#151515"/>
<rect x="681.30" y="561.12" width="5.15" height="3.22" fill="#b4b4b4"/>
<rect x="681.30" y="561.12" width="5.15" height="1" fill="#e8e8e8"/>
<rect x="687.25" y="560.52" width="6.65" height="5.02" fill="#151515"/>
<rect x="687.95" y="561.12" width="5.15" height="3.22" fill="#b4b4b4"/>
<rect x="687.95" y="561.12" width="5.15" height="1" fill="#e8e8e8"/>
<rect x="693.90" y="560.52" width="6.65" height="5.02" fill="#151515"/>
<rect x="694.60" y="561.12" width="5.15" height="3.22" fill="#b4b4b4"/>
<rect x="694.60" y="561.12" width="5.15" height="1" fill="#e8e8e8"/>
<rect x="700.55" y="560.52" width="6.65" height="5.02" fill="#151515"/>
<rect x="701.25" y="561.12" width="5.15" height="3.22" fill="#b4b4b4"/>
<rect x="701.25" y="561.12" width="5.15" height="1" fill="#e8e8e8"/>
<rect x="707.20" y="560.52" width="6.65" height="5.02" fill="#151515"/>
<rect x="707.90" y="561.12" width="5.15" height="3.22" fill="#b4b4b4"/>
<rect x="707.90" y="561.12" width="5.15" height="1" fill="#e8e8e8"/>
<rect x="713.85" y="560.52" width="6.65" height="5.02" fill="#151515"/>
<rect x="714.55" y="561.12" width="5.15" height="3.22" fill="#b4b4b4"/>
<rect x="714.55" y="561.12" width="5.15" height="1" fill="#e8e8e8"/>
<rect x="720.50" y="560.52" width="6.65" height="5.02" fill="#151515"/>
<rect x="721.20" y="561.12" width="5.15" height="3.22" fill="#b4b4b4"/>
<rect x="721.20" y="561.12" width="5.15" height="1" fill="#e8e8e8"/>
<rect x="727.15" y="560.52" width="6.65" height="5.02" fill="#151515"/>
<rect x="727.85" y="561.12" width="5.15" height="3.22" fill="#b4b4b4"/>
<rect x="727.85" y="561.12" width="5.15" height="1" fill="#e8e8e8"/>
<rect x="733.80" y="560.52" width="6.65" height="5.02" fill="#151515"/>
<rect x="734.50" y="561.12" width="5.15" height="3.22" fill="#b4b4b4"/>
<rect x="734.50" y="561.12" width="5.15" height="1" fill="#e8e8e8"/>
<rect x="740.45" y="560.52" width="6.65" height="5.02" fill="#151515"/>
<rect x="741.15" y="561.12" width="5.15" height="3.22" fill="#b4b4b4"/>
<rect x="741.15" y="561.12" width="5.15" height="1" fill="#e8e8e8"/>
<rect x="747.10" y="560.52" width="6.65" height="5.02" fill="#151515"/>
<rect x="747.80" y="561.12" width="5.15" height="3.22" fill="#b4b4b4"/>
<rect x="747.80" y="561.12" width="5.15" height="1" fill="#e8e8e8"/>
<rect x="654.00" y="565.54" width="6.65" height="5.02" fill="#151515"/>
<rect x="654.70" y="566.14" width="5.15" height="3.22" fill="#b4b4b4"/>
<rect x="654.70" y="566.14" width="5.15" height="1" fill="#e8e8e8"/>
<rect x="660.65" y="565.54" width="6.65" height="5.02" fill="#151515"/>
<rect x="661.35" y="566.14" width="5.15" height="3.22" fill="#b4b4b4"/>
<rect x="661.35" y="566.14" width="5.15" height="1" fill="#e8e8e8"/>
<rect x="667.30" y="565.54" width="6.65" height="5.02" fill="#151515"/>
<rect x="668.00" y="566.14" width="5.15" height="3.22" fill="#b4b4b4"/>
<rect x="668.00" y="566.14" width="5.15" height="1" fill="#e8e8e8"/>
<rect x="673.95" y="565.54" width="6.65" height="5.02" fill="#151515"/>
<rect x="674.65" y="566.14" width="5.15" height="3.22" fill="#b4b4b4"/>
<rect x="674.65" y="566.14" width="5.15" height="1" fill="#e8e8e8"/>
<rect x="680.60" y="565.54" width="6.65" height="5.02" fill="#151515"/>
<rect x="681.30" y="566.14" width="5.15" height="3.22" fill="#b4b4b4"/>
<rect x="681.30" y="566.14" width="5.15" height="1" fill="#e8e8e8"/>
<rect x="687.25" y="565.54" width="6.65" height="5.02" fill="#151515"/>
<rect x="687.95" y="566.14" width="5.15" height="3.22" fill="#b4b4b4"/>
<rect x="687.95" y="566.14" width="5.15" height="1" fill="#e8e8e8"/>
<rect x="693.90" y="565.54" width="6.65" height="5.02" fill="#151515"/>
<rect x="694.60" y="566.14" width="5.15" height="3.22" fill="#b4b4b4"/>
<rect x="694.60" y="566.14" width="5.15" height="1" fill="#e8e8e8"/>
<rect x="700.55" y="565.54" width="6.65" height="5.02" fill="#151515"/>
<rect x="701.25" y="566.14" width="5.15" height="3.22" fill="#b4b4b4"/>
<rect x="701.25" y="566.14" width="5.15" height="1" fill="#e8e8e8"/>
<rect x="707.20" y="565.54" width="6.65" height="5.02" fill="#151515"/>
<rect x="707.90" y="566.14" width="5.15" height="3.22" fill="#b4b4b4"/>
<rect x="707.90" y="566.14" width="5.15" height="1" fill="#e8e8e8"/>
<rect x="713.85" y="565.54" width="6.65" height="5.02" fill="#151515"/>
<rect x="714.55" y="566.14" width="5.15" height="3.22" fill="#b4b4b4"/>
<rect x="714.55" y="566.14" width="5.15" height="1" fill="#e8e8e8"/>
<rect x="720.50" y="565.54" width="6.65" height="5.02" fill="#151515"/>
<rect x="721.20" y="566.14" width="5.15" height="3.22" fill="#b4b4b4"/>
<rect x="721.20" y="566.14" width="5.15" height="1" fill="#e8e8e8"/>
<rect x="727.15" y="565.54" width="6.65" height="5.02" fill="#151515"/>
<rect x="727.85" y="566.14" width="5.15" height="3.22" fill="#b4b4b4"/>
<rect x="727.85" y="566.14" width="5.15" height="1" fill="#e8e8e8"/>
<rect x="733.80" y="565.54" width="6.65" height="5.02" fill="#151515"/>
<rect x="734.50" y="566.14" width="5.15" height="3.22" fill="#b4b4b4"/>
<rect x="734.50" y="566.14" width="5.15" height="1" fill="#e8e8e8"/>
<rect x="740.45" y="565.54" width="6.65" height="5.02" fill="#151515"/>
<rect x="741.15" y="566.14" width="5.15" height="3.22" fill="#b4b4b4"/>
<rect x="741.15" y="566.14" width="5.15" height="1" fill="#e8e8e8"/>
<rect x="747.10" y="565.54" width="6.65" height="5.02" fill="#151515"/>
<rect x="747.80" y="566.14" width="5.15" height="3.22" fill="#b4b4b4"/>
<rect x="747.80" y="566.14" width="5.15" height="1" fill="#e8e8e8"/>
<rect x="654.00" y="570.56" width="6.65" height="5.02" fill="#151515"/>
<rect x="654.70" y="571.16" width="5.15" height="3.22" fill="#b4b4b4"/>
<rect x="654.70" y="571.16" width="5.15" height="1" fill="#e8e8e8"/>
<rect x="660.65" y="570.56" width="6.65" height="5.02" fill="#151515"/>
<rect x="661.35" y="571.16" width="5.15" height="3.22" fill="#b4b4b4"/>
<rect x="661.35" y="571.16" width="5.15" height="1" fill="#e8e8e8"/>
<rect x="667.30" y="570.56" width="6.65" height="5.02" fill="#151515"/>
<rect x="668.00" y="571.16" width="5.15" height="3.22" fill="#b4b4b4"/>
<rect x="668.00" y="571.16" width="5.15" height="1" fill="#e8e8e8"/>
<rect x="673.95" y="570.56" width="6.65" height="5.02" fill="#151515"/>
<rect x="674.65" y="571.16" width="5.15" height="3.22" fill="#b4b4b4"/>
<rect x="674.65" y="571.16" width="5.15" height="1" fill="#e8e8e8"/>
<rect x="680.60" y="570.56" width="6.65" height="5.02" fill="#151515"/>
<rect x="681.30" y="571.16" width="5.15" height="3.22" fill="#b4b4b4"/>
<rect x="681.30" y="571.16" width="5.15" height="1" fill="#e8e8e8"/>
<rect x="687.25" y="570.56" width="6.65" height="5.02" fill="#151515"/>
<rect x="687.95" y="571.16" width="5.15" height="3.22" fill="#b4b4b4"/>
<rect x="687.95" y="571.16" width="5.15" height="1" fill="#e8e8e8"/>
<rect x="693.90" y="570.56" width="6.65" height="5.02" fill="#151515"/>
<rect x="694.60" y="571.16" width="5.15" height="3.22" fill="#b4b4b4"/>
<rect x="694.60" y="571.16" width="5.15" height="1" fill="#e8e8e8"/>
<rect x="700.55" y="570.56" width="6.65" height="5.02" fill="#151515"/>
<rect x="701.25" y="571.16" width="5.15" height="3.22" fill="#b4b4b4"/>
<rect x="701.25" y="571.16" width="5.15" height="1" fill="#e8e8e8"/>
<rect x="707.20" y="570.56" width="6.65" height="5.02" fill="#151515"/>
<rect x="707.90" y="571.16" width="5.15" height="3.22" fill="#b4b4b4"/>
<rect x="707.90" y="571.16" width="5.15" height="1" fill="#e8e8e8"/>
<rect x="713.85" y="570.56" width="6.65" height="5.02" fill="#151515"/>
<rect x="714.55" y="571.16" width="5.15" height="3.22" fill="#b4b4b4"/>
<rect x="714.55" y="571.16" width="5.15" height="1" fill="#e8e8e8"/>
<rect x="720.50" y="570.56" width="6.65" height="5.02" fill="#151515"/>
<rect x="721.20" y="571.16" width="5.15" height="3.22" fill="#b4b4b4"/>
<rect x="721.20" y="571.16" width="5.15" height="1" fill="#e8e8e8"/>
<rect x="727.15" y="570.56" width="6.65" height="5.02" fill="#151515"/>
<rect x="727.85" y="571.16" width="5.15" height="3.22" fill="#b4b4b4"/>
<rect x="727.85" y="571.16" width="5.15" height="1" fill="#e8e8e8"/>
<rect x="733.80" y="570.56" width="6.65" height="5.02" fill="#151515"/>
<rect x="734.50" y="571.16" width="5.15" height="3.22" fill="#b4b4b4"/>
<rect x="734.50" y="571.16" width="5.15" height="1" fill="#e8e8e8"/>
<rect x="740.45" y="570.56" width="6.65" height="5.02" fill="#151515"/>
<rect x="741.15" y="571.16" width="5.15" height="3.22" fill="#b4b4b4"/>
<rect x="741.15" y="571.16" width="5.15" height="1" fill="#e8e8e8"/>
<rect x="747.10" y="570.56" width="6.65" height="5.02" fill="#151515"/>
<rect x="747.80" y="571.16" width="5.15" height="3.22" fill="#b4b4b4"/>
<rect x="747.80" y="571.16" width="5.15" height="1" fill="#e8e8e8"/>
<rect x="654.00" y="575.58" width="6.98" height="5.02" fill="#151515"/>
<rect x="654.70" y="576.18" width="5.48" height="3.22" fill="#b4b4b4"/>
<rect x="654.70" y="576.18" width="5.48" height="1" fill="#e8e8e8"/>
<rect x="660.98" y="575.58" width="6.98" height="5.02" fill="#151515"/>
<rect x="661.68" y="576.18" width="5.48" height="3.22" fill="#b4b4b4"/>
<rect x="661.68" y="576.18" width="5.48" height="1" fill="#e8e8e8"/>
<rect x="667.97" y="575.58" width="6.98" height="5.02" fill="#151515"/>
<rect x="668.67" y="576.18" width="5.48" height="3.22" fill="#b4b4b4"/>
<rect x="668.67" y="576.18" width="5.48" height="1" fill="#e8e8e8"/>
<rect x="677.3" y="575.58" width="55" height="5.02" fill="#151515"/>
<rect x="678.2" y="576.38" width="53.2" height="2.82" fill="#b0b0b0"/>
<rect x="678.2" y="576.38" width="22" height="0.9" fill="#7a7a7a"/>
<rect x="732.30" y="575.58" width="7.20" height="5.02" fill="#151515"/>
<rect x="733.00" y="576.18" width="5.70" height="3.22" fill="#b4b4b4"/>
<rect x="733.00" y="576.18" width="5.70" height="1" fill="#e8e8e8"/>
<rect x="739.50" y="575.58" width="7.20" height="5.02" fill="#151515"/>
<rect x="740.20" y="576.18" width="5.70" height="3.22" fill="#b4b4b4"/>
<rect x="740.20" y="576.18" width="5.70" height="1" fill="#e8e8e8"/>
<rect x="746.70" y="575.58" width="7.20" height="5.02" fill="#151515"/>
<rect x="747.40" y="576.18" width="5.70" height="3.22" fill="#b4b4b4"/>
<rect x="747.40" y="576.18" width="5.70" height="1" fill="#e8e8e8"/>
<rect x="757.50" y="555.50" width="7.83" height="5.02" fill="#151515"/>
<rect x="758.20" y="556.10" width="6.33" height="3.22" fill="#b4b4b4"/>
<rect x="758.20" y="556.10" width="6.33" height="1" fill="#e8e8e8"/>
<rect x="765.33" y="555.50" width="7.83" height="5.02" fill="#151515"/>
<rect x="766.03" y="556.10" width="6.33" height="3.22" fill="#b4b4b4"/>
<rect x="766.03" y="556.10" width="6.33" height="1" fill="#e8e8e8"/>
<rect x="773.16" y="555.50" width="7.83" height="5.02" fill="#151515"/>
<rect x="773.86" y="556.10" width="6.33" height="3.22" fill="#b4b4b4"/>
<rect x="773.86" y="556.10" width="6.33" height="1" fill="#e8e8e8"/>
<rect x="757.50" y="561.50" width="7.83" height="5.02" fill="#151515"/>
<rect x="758.20" y="562.10" width="6.33" height="3.22" fill="#b4b4b4"/>
<rect x="758.20" y="562.10" width="6.33" height="1" fill="#e8e8e8"/>
<rect x="765.33" y="561.50" width="7.83" height="5.02" fill="#151515"/>
<rect x="766.03" y="562.10" width="6.33" height="3.22" fill="#b4b4b4"/>
<rect x="766.03" y="562.10" width="6.33" height="1" fill="#e8e8e8"/>
<rect x="773.16" y="561.50" width="7.83" height="5.02" fill="#151515"/>
<rect x="773.86" y="562.10" width="6.33" height="3.22" fill="#b4b4b4"/>
<rect x="773.86" y="562.10" width="6.33" height="1" fill="#e8e8e8"/>
<rect x="757.50" y="566.52" width="7.83" height="5.02" fill="#151515"/>
<rect x="758.20" y="567.12" width="6.33" height="3.22" fill="#b4b4b4"/>
<rect x="758.20" y="567.12" width="6.33" height="1" fill="#e8e8e8"/>
<rect x="765.33" y="566.52" width="7.83" height="5.02" fill="#151515"/>
<rect x="766.03" y="567.12" width="6.33" height="3.22" fill="#b4b4b4"/>
<rect x="766.03" y="567.12" width="6.33" height="1" fill="#e8e8e8"/>
<rect x="773.16" y="566.52" width="7.83" height="5.02" fill="#151515"/>
<rect x="773.86" y="567.12" width="6.33" height="3.22" fill="#b4b4b4"/>
<rect x="773.86" y="567.12" width="6.33" height="1" fill="#e8e8e8"/>
<rect x="765.33" y="571.20" width="7.83" height="4.60" fill="#151515"/>
<rect x="766.03" y="571.80" width="6.33" height="2.80" fill="#b4b4b4"/>
<rect x="766.03" y="571.80" width="6.33" height="1" fill="#e8e8e8"/>
<rect x="757.50" y="575.60" width="7.83" height="5.02" fill="#151515"/>
<rect x="758.20" y="576.20" width="6.33" height="3.22" fill="#b4b4b4"/>
<rect x="758.20" y="576.20" width="6.33" height="1" fill="#e8e8e8"/>
<rect x="765.33" y="575.60" width="7.83" height="5.02" fill="#151515"/>
<rect x="766.03" y="576.20" width="6.33" height="3.22" fill="#b4b4b4"/>
<rect x="766.03" y="576.20" width="6.33" height="1" fill="#e8e8e8"/>
<rect x="773.16" y="575.60" width="7.83" height="5.02" fill="#151515"/>
<rect x="773.86" y="576.20" width="6.33" height="3.22" fill="#b4b4b4"/>
<rect x="773.86" y="576.20" width="6.33" height="1" fill="#e8e8e8"/>
<rect x="784.60" y="560.50" width="7.70" height="5.02" fill="#151515"/>
<rect x="785.30" y="561.10" width="6.20" height="3.22" fill="#b4b4b4"/>
<rect x="785.30" y="561.10" width="6.20" height="1" fill="#e8e8e8"/>
<rect x="792.30" y="560.50" width="7.70" height="5.02" fill="#151515"/>
<rect x="793.00" y="561.10" width="6.20" height="3.22" fill="#b4b4b4"/>
<rect x="793.00" y="561.10" width="6.20" height="1" fill="#e8e8e8"/>
<rect x="800.00" y="560.50" width="7.70" height="5.02" fill="#151515"/>
<rect x="800.70" y="561.10" width="6.20" height="3.22" fill="#b4b4b4"/>
<rect x="800.70" y="561.10" width="6.20" height="1" fill="#e8e8e8"/>
<rect x="807.70" y="560.50" width="7.70" height="5.02" fill="#151515"/>
<rect x="808.40" y="561.10" width="6.20" height="3.22" fill="#b4b4b4"/>
<rect x="808.40" y="561.10" width="6.20" height="1" fill="#e8e8e8"/>
<rect x="784.60" y="565.52" width="7.70" height="5.02" fill="#151515"/>
<rect x="785.30" y="566.12" width="6.20" height="3.22" fill="#b4b4b4"/>
<rect x="785.30" y="566.12" width="6.20" height="1" fill="#e8e8e8"/>
<rect x="792.30" y="565.52" width="7.70" height="5.02" fill="#151515"/>
<rect x="793.00" y="566.12" width="6.20" height="3.22" fill="#b4b4b4"/>
<rect x="793.00" y="566.12" width="6.20" height="1" fill="#e8e8e8"/>
<rect x="800.00" y="565.52" width="7.70" height="5.02" fill="#151515"/>
<rect x="800.70" y="566.12" width="6.20" height="3.22" fill="#b4b4b4"/>
<rect x="800.70" y="566.12" width="6.20" height="1" fill="#e8e8e8"/>
<rect x="807.70" y="565.52" width="7.70" height="5.02" fill="#151515"/>
<rect x="808.40" y="566.12" width="6.20" height="3.22" fill="#b4b4b4"/>
<rect x="808.40" y="566.12" width="6.20" height="1" fill="#e8e8e8"/>
<rect x="784.60" y="570.54" width="7.70" height="5.02" fill="#151515"/>
<rect x="785.30" y="571.14" width="6.20" height="3.22" fill="#b4b4b4"/>
<rect x="785.30" y="571.14" width="6.20" height="1" fill="#e8e8e8"/>
<rect x="792.30" y="570.54" width="7.70" height="5.02" fill="#151515"/>
<rect x="793.00" y="571.14" width="6.20" height="3.22" fill="#b4b4b4"/>
<rect x="793.00" y="571.14" width="6.20" height="1" fill="#e8e8e8"/>
<rect x="800.00" y="570.54" width="7.70" height="5.02" fill="#151515"/>
<rect x="800.70" y="571.14" width="6.20" height="3.22" fill="#b4b4b4"/>
<rect x="800.70" y="571.14" width="6.20" height="1" fill="#e8e8e8"/>
<rect x="807.70" y="570.54" width="7.70" height="5.02" fill="#151515"/>
<rect x="808.40" y="571.14" width="6.20" height="3.22" fill="#b4b4b4"/>
<rect x="808.40" y="571.14" width="6.20" height="1" fill="#e8e8e8"/>
<rect x="784.60" y="575.56" width="7.70" height="5.02" fill="#151515"/>
<rect x="785.30" y="576.16" width="6.20" height="3.22" fill="#b4b4b4"/>
<rect x="785.30" y="576.16" width="6.20" height="1" fill="#e8e8e8"/>
<rect x="792.30" y="575.56" width="7.70" height="5.02" fill="#151515"/>
<rect x="793.00" y="576.16" width="6.20" height="3.22" fill="#b4b4b4"/>
<rect x="793.00" y="576.16" width="6.20" height="1" fill="#e8e8e8"/>
<rect x="800.00" y="575.56" width="7.70" height="5.02" fill="#151515"/>
<rect x="800.70" y="576.16" width="6.20" height="3.22" fill="#b4b4b4"/>
<rect x="800.70" y="576.16" width="6.20" height="1" fill="#e8e8e8"/>
<rect x="807.70" y="575.56" width="7.70" height="5.02" fill="#151515"/>
<rect x="808.40" y="576.16" width="6.20" height="3.22" fill="#b4b4b4"/>
<rect x="808.40" y="576.16" width="6.20" height="1" fill="#e8e8e8"/>

<!-- bottom panel -->
<defs>
  <pattern id="stripe2" x="0" y="0" width="8" height="4" patternUnits="userSpaceOnUse">
    <rect width="8" height="4" fill="#ececec"/><rect y="3" width="8" height="1" fill="#e4e4e4"/>
  </pattern>
  <linearGradient id="hdr" x1="0" y1="0" x2="0" y2="1">
    <stop offset="0" stop-color="#ffffff"/><stop offset="1" stop-color="#f2f2f2"/>
  </linearGradient>
</defs>
<rect x="0" y="618.6" width="1018" height="1.2" fill="#727472"/>
<rect x="0" y="619.8" width="1018" height="48.2" fill="#ebebeb"/>
<rect x="0" y="619.8" width="1018" height="1.4" fill="#fafafa"/>
<rect x="0" y="628.8" width="1018" height="1" fill="#e2e2e2"/>
<rect x="0" y="630.8" width="1018" height="1" fill="#f4f4f4"/>
<rect x="0" y="637.6" width="1018" height="1" fill="#dedede"/>
<rect x="6" y="622" width="825" height="46" fill="#3a3a3a"/>
<rect x="7.2" y="623.2" width="822" height="45" fill="#cfcfcf"/>
<rect x="8.8" y="624.6" width="820" height="44" fill="#0c0c0c"/>
<rect x="10" y="625.8" width="818" height="43" fill="#ffffff"/>
<rect x="10" y="625.8" width="818" height="16" fill="url(#hdr)"/>
<rect x="809" y="625.8" width="19" height="16" fill="#f0f0f0"/>
<rect x="10" y="641.8" width="818" height="1.5" fill="#c4c4c4"/>
<g fill="#c8c8c8">
<rect x="67.2" y="628" width="1" height="11"/><rect x="144.8" y="628" width="1" height="11"/>
<rect x="503.4" y="628" width="1" height="11"/><rect x="569.2" y="628" width="1" height="11"/>
<rect x="634.6" y="628" width="1" height="11"/><rect x="748.6" y="628" width="1" height="11"/>
<rect x="808.2" y="628" width="1" height="11"/>
</g>
<g font-size="11" fill="#111">
<text x="18.4" y="637.8">Date</text><text x="78.5" y="637.8" textLength="22" lengthAdjust="spacingAndGlyphs">Time</text><text x="155.7" y="637.8" textLength="45" lengthAdjust="spacingAndGlyphs">Comment</text>
<text x="513.6" y="637.8" textLength="26.3" lengthAdjust="spacingAndGlyphs">Value</text><text x="579.4" y="637.8" textLength="20.5" lengthAdjust="spacingAndGlyphs">Limit</text><text x="644.8" y="637.8" textLength="29" lengthAdjust="spacingAndGlyphs">Group</text><text x="759" y="637.8">State</text>
</g>
<g font-size="11" fill="#a41428">
<text x="15.9" y="653.6">01/04/06</text><text x="76" y="653.6">15:14:26.781</text><text x="152.8" y="653.6" textLength="147.3" lengthAdjust="spacingAndGlyphs">M616 Preheater Fan Motor Fail</text>
<text x="510.6" y="653.6" textLength="19.5" lengthAdjust="spacingAndGlyphs">OFF</text><text x="576.4" y="653.6" textLength="19.5" lengthAdjust="spacingAndGlyphs">OFF</text><text x="641.7" y="653.6" textLength="49.3" lengthAdjust="spacingAndGlyphs">GasValves</text><text x="755.5" y="653.6" textLength="34.7" lengthAdjust="spacingAndGlyphs">UNACK</text>
<text x="15.9" y="665.6">01/04/06</text><text x="76" y="665.6">15:14:26.781</text><text x="152.8" y="665.6" textLength="147.3" lengthAdjust="spacingAndGlyphs">M616 Preheater Fan Motor Fail</text>
<text x="510.6" y="665.6" textLength="36.3" lengthAdjust="spacingAndGlyphs">E-STOP</text><text x="576.4" y="665.6" textLength="36.3" lengthAdjust="spacingAndGlyphs">E-STOP</text><text x="641.7" y="665.6" textLength="49.3" lengthAdjust="spacingAndGlyphs">GasValves</text><text x="755.5" y="665.6" textLength="34.7" lengthAdjust="spacingAndGlyphs">UNACK</text>
</g>

</svg>
</body></html>
